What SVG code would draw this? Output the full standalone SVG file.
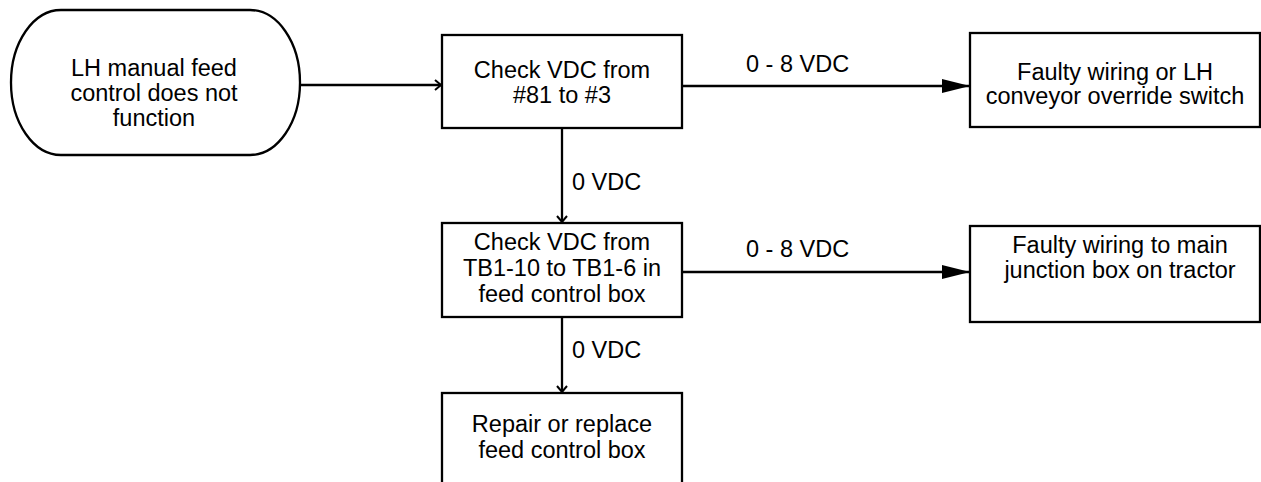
<svg xmlns="http://www.w3.org/2000/svg" width="1261" height="482" viewBox="0 0 1261 482">
  <style>
    .shape { fill: #ffffff; stroke: #000000; stroke-width: 2.3; }
    .label { font-family: "Liberation Sans", Arial, sans-serif; font-size: 23.5px; fill: #000000; text-anchor: middle; }
    .edge-label { font-family: "Liberation Sans", Arial, sans-serif; font-size: 23.5px; fill: #000000; }
    .wire { fill: none; stroke: #000000; stroke-width: 2.3; }
  </style>
  <defs>
    <!-- small open chevron -->
    <marker id="chev" markerUnits="userSpaceOnUse" markerWidth="10" markerHeight="14" viewBox="0 0 10 14" refX="8" refY="7" orient="auto">
      <path d="M2,2 L8,7 L2,12" fill="none" stroke="#000000" stroke-width="2"/>
    </marker>
    <!-- solid triangle head -->
    <marker id="solid" markerUnits="userSpaceOnUse" markerWidth="29" markerHeight="16" viewBox="0 0 29 16" refX="28" refY="8" orient="auto">
      <path d="M0,1 L28,8 L0,15 Z" fill="#000000"/>
    </marker>
  </defs>
  <rect width="1261" height="482" fill="#ffffff"/>

  <g id="connectors">
    <line class="wire" x1="300" y1="85" x2="441" y2="85" marker-end="url(#chev)"/>
    <line class="wire" x1="682" y1="86" x2="970" y2="86" marker-end="url(#solid)"/>
    <line class="wire" x1="562" y1="128" x2="562" y2="222" marker-end="url(#chev)"/>
    <line class="wire" x1="682" y1="272" x2="970" y2="272" marker-end="url(#solid)"/>
    <line class="wire" x1="562" y1="317" x2="562" y2="392" marker-end="url(#chev)"/>
    <text class="edge-label" x="746" y="72">0 - 8 VDC</text>
    <text class="edge-label" x="572" y="190">0 VDC</text>
    <text class="edge-label" x="746" y="257">0 - 8 VDC</text>
    <text class="edge-label" x="572" y="358">0 VDC</text>
  </g>

  <g id="start">
    <rect class="shape" x="11" y="10" width="289" height="145" rx="50" ry="72.5"/>
    <text class="label" x="154" y="76">LH manual feed</text>
    <text class="label" x="154" y="101">control does not</text>
    <text class="label" x="154" y="126">function</text>
  </g>

  <g id="check-81-3">
    <rect class="shape" x="442" y="35" width="240" height="93"/>
    <text class="label" x="562" y="78">Check VDC from</text>
    <text class="label" x="562" y="103">#81 to #3</text>
  </g>

  <g id="faulty-override">
    <rect class="shape" x="970" y="33" width="290" height="94"/>
    <text class="label" x="1115" y="80">Faulty wiring or LH</text>
    <text class="label" x="1115" y="104">conveyor override switch</text>
  </g>

  <g id="check-tb1">
    <rect class="shape" x="442" y="223" width="240" height="94"/>
    <text class="label" x="562" y="250">Check VDC from</text>
    <text class="label" x="562" y="276">TB1-10 to TB1-6 in</text>
    <text class="label" x="562" y="302">feed control box</text>
  </g>

  <g id="faulty-junction">
    <rect class="shape" x="970" y="226" width="290" height="96"/>
    <text class="label" x="1120" y="253">Faulty wiring to main</text>
    <text class="label" x="1120" y="278">junction box on tractor</text>
  </g>

  <g id="repair-box">
    <rect class="shape" x="442" y="393" width="240" height="100"/>
    <text class="label" x="562" y="432">Repair or replace</text>
    <text class="label" x="562" y="458">feed control box</text>
  </g>
</svg>
